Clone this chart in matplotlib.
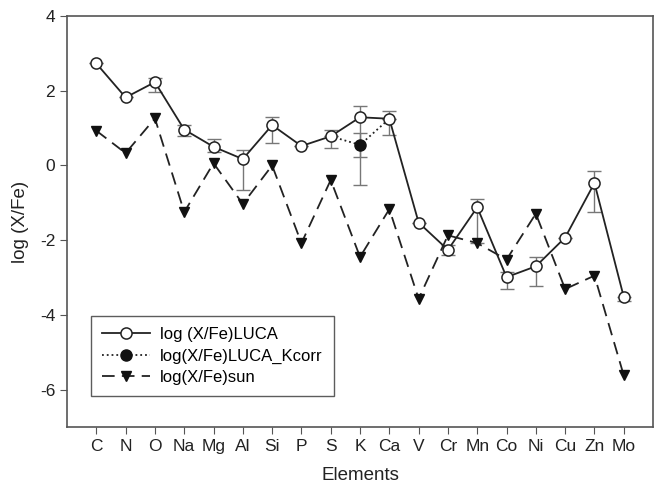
import matplotlib
matplotlib.use("Agg")
import matplotlib.pyplot as plt
import numpy as np

plt.rcParams["font.family"] = ["Liberation Sans", "DejaVu Sans"]

elements = ["C", "N", "O", "Na", "Mg", "Al", "Si", "P", "S", "K", "Ca", "V",
            "Cr", "Mn", "Co", "Ni", "Cu", "Zn", "Mo"]
luca = [2.73, 1.82, 2.23, 0.96, 0.50, 0.17, 1.08, 0.52, 0.78, 1.29, 1.25, -1.53,
        -2.26, -1.12, -2.99, -2.70, -1.93, -0.47, -3.52]
luca_err_low = [0.0, 0.0, 0.27, 0.18, 0.15, 0.82, 0.48, 0.0, 0.30, 1.81, 0.43, 0.0,
                0.13, 0.95, 0.31, 0.53, 0.0, 0.77, 0.12]
luca_err_high = [0.0, 0.0, 0.10, 0.12, 0.22, 0.24, 0.21, 0.0, 0.18, 0.29, 0.21, 0.0,
                 0.13, 0.23, 0.15, 0.26, 0.0, 0.31, 0.0]
kcorr_elements = ["S", "K", "Ca"]
kcorr = [0.78, 0.55, 1.25]
kcorr_err = [0.0, 0.32, 0.0]
sun = [0.93, 0.33, 1.26, -1.25, 0.06, -1.03, 0.00, -2.08, -0.39, -2.45, -1.17, -3.57,
       -1.87, -2.08, -2.52, -1.29, -3.31, -2.95, -5.62]

x = np.arange(1, len(elements) + 1)
xk = np.array([elements.index(e) + 1 for e in kcorr_elements])

fig = plt.figure(figsize=(6.57, 4.93), dpi=100)
ax = fig.add_axes([0.102, 0.134, 0.892, 0.8335])

ecol = "#777777"
ax.errorbar(x, luca, yerr=[luca_err_low, luca_err_high], fmt="none", ecolor=ecol,
            elinewidth=1.0, capsize=5, capthick=1.0, zorder=1)
ax.errorbar(xk, kcorr, yerr=kcorr_err, fmt="none", ecolor=ecol,
            elinewidth=1.0, capsize=5, capthick=1.0, zorder=1)

l1, = ax.plot(x, luca, "-", color="#222222", lw=1.3, marker="o", ms=8,
              mfc="white", mec="#222222", mew=1.1, zorder=4)
ax.plot(xk, kcorr, ":", color="#222222", lw=1.3, zorder=3)
ax.plot(xk[1:2], kcorr[1:2], "o", color="#111111", ms=8, zorder=5)
l2leg, = ax.plot([], [], ":", color="#222222", lw=1.3, marker="o", ms=8,
                 mfc="#111111", mec="#111111")
l3, = ax.plot(x, sun, "--", color="#222222", lw=1.3, dashes=(7, 4), marker="v", ms=7.5,
              mfc="#111111", mec="#111111", zorder=3)

leg = ax.legend([l1, l2leg, l3],
                ["log (X/Fe)LUCA", "log(X/Fe)LUCA_Kcorr", "log(X/Fe)sun"],
                loc="lower left", bbox_to_anchor=(0.041, 0.075), borderaxespad=0,
                fontsize=12, frameon=True, fancybox=False, handlelength=2.9,
                borderpad=0.65, labelspacing=0.4, handletextpad=0.6)
leg.get_frame().set_edgecolor("#333333")
leg.get_frame().set_linewidth(1.0)

ax.set_xlim(0, 20)
ax.set_ylim(-7, 4)
ax.set_xticks(x)
ax.set_xticklabels(elements)
ax.set_yticks([-6, -4, -2, 0, 2, 4])
ax.set_yticklabels(["-6", "-4", "-2", "0", "2", "4"])
ax.tick_params(axis="both", labelsize=12.5, length=5, color="#555555",
               direction="out", labelcolor="#222222")
ax.tick_params(axis="x", pad=4)
for s in ax.spines.values():
    s.set_color("#555555")
    s.set_linewidth(1.2)

ax.set_xlabel("Elements", fontsize=13.5, color="#222222", labelpad=9)
ax.set_ylabel("log (X/Fe)", fontsize=13.5, color="#222222", labelpad=8)

fig.savefig("out.png", dpi=100)
